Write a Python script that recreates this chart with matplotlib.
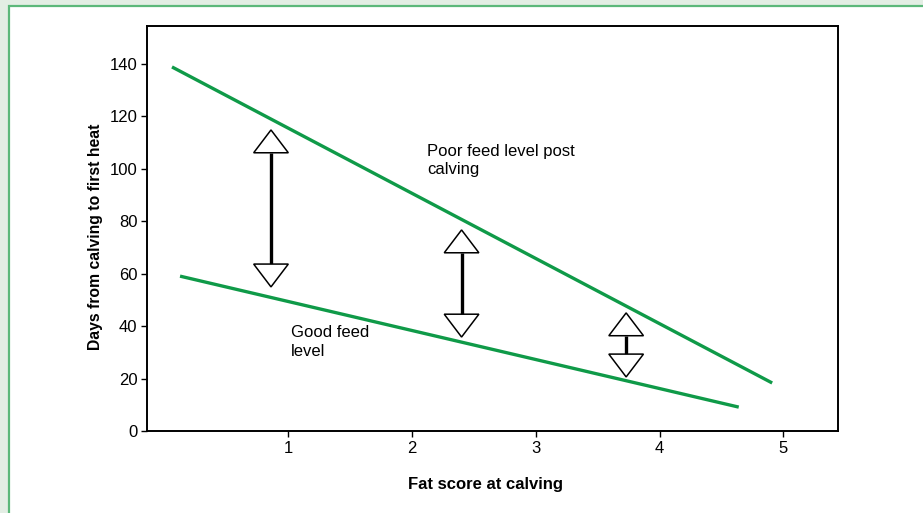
import numpy as np
import matplotlib.pyplot as plt
from matplotlib.patches import Rectangle, Polygon

plt.rcParams['font.family'] = ['Liberation Sans', 'DejaVu Sans']

# Line end points
poor_x = [0.06, 4.91]
poor_y = [138.7, 18.3]
good_x = [0.125, 4.64]
good_y = [59.0, 9.1]

# Double-headed arrows: x position, top tip, bottom tip
arrow_x = [0.86, 2.40, 3.73]
arrow_top = [114.7, 76.6, 45.0]
arrow_bottom = [54.9, 35.8, 20.6]
head_h = 8.7
head_w = 0.28

xticks = [1, 2, 3, 4, 5]
yticks = [0, 20, 40, 60, 80, 100, 120, 140]

green = '#0f9a48'
fs = 12

fig = plt.figure(figsize=(9.23, 5.13), dpi=100)
fig.patch.set_facecolor('#e3eee4')
fig.patches.append(Rectangle((9/923, -0.1), 1.2, 1.1 - 5.5/513, transform=fig.transFigure,
                             facecolor='white', edgecolor='#5cb87a', lw=1.6, zorder=-5))

ax = fig.add_axes([147/923, 1-431/513, (838-147)/923, (431-26)/513])
ax.set_facecolor('white')

ax.plot(poor_x, poor_y, color=green, lw=2.4, solid_capstyle='butt')
ax.plot(good_x, good_y, color=green, lw=2.4, solid_capstyle='butt')

for x, t, b in zip(arrow_x, arrow_top, arrow_bottom):
    ax.plot([x, x], [t - head_h, b + head_h], color='black', lw=2.4, solid_capstyle='butt', zorder=3)
    ax.add_patch(Polygon([[x, t], [x - head_w/2, t - head_h], [x + head_w/2, t - head_h]],
                         closed=True, facecolor='white', edgecolor='black', lw=1.1, zorder=4))
    ax.add_patch(Polygon([[x, b], [x - head_w/2, b + head_h], [x + head_w/2, b + head_h]],
                         closed=True, facecolor='white', edgecolor='black', lw=1.1, zorder=4))

ax.text(2.12, 109.5, 'Poor feed level post\ncalving', fontsize=fs, va='top', ha='left', linespacing=1.3)
ax.text(1.02, 40.3, 'Good feed\nlevel', fontsize=fs, va='top', ha='left', linespacing=1.3)

ax.set_xlim(-0.142, 5.442)
ax.set_ylim(0, 154.3)
ax.set_xticks(xticks)
ax.set_yticks(yticks)
ax.tick_params(labelsize=fs, length=4, width=1, direction='out', pad=3)
for s in ax.spines.values():
    s.set_linewidth(1.4)

ax.set_xlabel('Fat score at calving', fontsize=fs, fontweight='bold', va='center')
ax.set_ylabel('Days from calving to first heat', fontsize=11.3, fontweight='bold', va='center')
ax.xaxis.set_label_coords(0.49, -0.131)
ax.yaxis.set_label_coords(-0.075, 0.48)

fig.savefig('out.png', dpi=100, facecolor=fig.get_facecolor())
